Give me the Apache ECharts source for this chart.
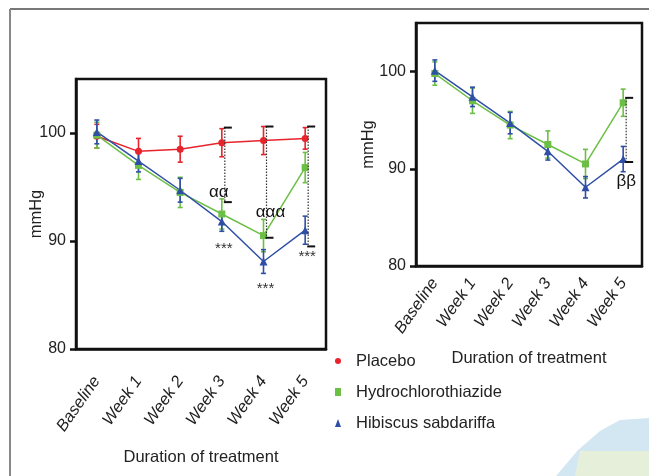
<!DOCTYPE html>
<html>
<head>
<meta charset="utf-8">
<script src="https://cdn.jsdelivr.net/npm/echarts@6/dist/echarts.min.js"></script>
<style>
  html, body { margin: 0; padding: 0; background: #fff; }
  #chart { width: 649px; height: 476px; }
</style>
</head>
<body>
<div id="chart"></div>
<script>
// categories and tick labels
const weeks = ['Baseline', 'Week 1', 'Week 2', 'Week 3', 'Week 4', 'Week 5'];
const yTicks = [80, 90, 100];

// means (mmHg)
const placebo = [99.7, 98.3, 98.5, 99.1, 99.3, 99.5];
const hct = [99.8, 97.0, 94.5, 92.5, 90.5, 96.8];
const hibiscus = [100.1, 97.4, 94.7, 91.8, 88.1, 91.0];

// error bar half widths
const placeboErr = [1.1, 1.2, 1.2, 1.3, 1.3, 1.0];
const hctErr = [1.2, 1.3, 1.4, 1.4, 1.5, 1.4];
const hibiscusErr = [1.1, 1.0, 1.1, 0.9, 1.1, 1.3];

// significance brackets: [category, top, bottom]
const bracketsLeft = [[3, 100.5, 93.6], [4, 100.6, 90.3], [5, 100.6, 89.5]];
const bracketsRight = [[5, 97.3, 90.7]];

// significance marks: [category, value, text]
const marksLeft = [[3, 94.5, 'αα'], [4, 92.7, 'ααα'], [3, 89.3, '***'], [4, 85.6, '***'], [5, 88.5, '***']];
const marksRight = [[5, 88.7, 'ββ']];

const RED = '#e8232b', GREEN = '#6cbf45', BLUE = '#2f4fa6';
const FONT = 'Liberation Sans, Arial, sans-serif';

const chart = echarts.init(document.getElementById('chart'));

function errData(mean, err) {
  return mean.map((m, i) => [i, m - err[i], m + err[i]]);
}

function errSeries(name, mean, err, color, idx) {
  return {
    name: name,
    type: 'custom',
    xAxisIndex: idx, yAxisIndex: idx,
    z: 3,
    itemStyle: { color: color },
    data: errData(mean, err),
    encode: { x: 0, y: [1, 2] },
    renderItem(params, api) {
      const lo = api.coord([api.value(0), api.value(1)]);
      const hi = api.coord([api.value(0), api.value(2)]);
      const st = { stroke: color, lineWidth: 1.6 };
      return {
        type: 'group',
        children: [
          { type: 'line', shape: { x1: hi[0], y1: hi[1], x2: lo[0], y2: lo[1] }, style: st },
          { type: 'line', shape: { x1: hi[0] - 2.5, y1: hi[1], x2: hi[0] + 2.5, y2: hi[1] }, style: st },
          { type: 'line', shape: { x1: lo[0] - 2.5, y1: lo[1], x2: lo[0] + 2.5, y2: lo[1] }, style: st }
        ]
      };
    }
  };
}

function lineSeries(name, data, color, symbol, size, idx) {
  return {
    name: name,
    type: 'line',
    xAxisIndex: idx, yAxisIndex: idx,
    data: data,
    symbol: symbol,
    symbolSize: size,
    z: 4,
    lineStyle: { color: color, width: 1.5 },
    itemStyle: { color: color },
    emphasis: { disabled: true }
  };
}

function bracketSeries(data, idx) {
  return {
    type: 'custom',
    xAxisIndex: idx, yAxisIndex: idx,
    z: 5,
    data: data,
    encode: { x: 0, y: [1, 2] },
    renderItem(params, api) {
      const top = api.coord([api.value(0), api.value(1)]);
      const bot = api.coord([api.value(0), api.value(2)]);
      const x = top[0] + 3;
      const cap = { stroke: '#111', lineWidth: 2 };
      return {
        type: 'group',
        children: [
          { type: 'line', shape: { x1: x, y1: top[1], x2: x, y2: bot[1] },
            style: { stroke: '#333', lineWidth: 1.2, lineDash: [1.5, 1.5] } },
          { type: 'line', shape: { x1: x - 1, y1: top[1], x2: x + 7, y2: top[1] }, style: cap },
          { type: 'line', shape: { x1: x - 1, y1: bot[1], x2: x + 7, y2: bot[1] }, style: cap }
        ]
      };
    }
  };
}

function markSeries(data, idx) {
  return {
    type: 'custom',
    xAxisIndex: idx, yAxisIndex: idx,
    z: 6,
    data: data,
    encode: { x: 0, y: 1 },
    renderItem(params, api) {
      const d = data[params.dataIndex];
      const p = api.coord([d[0], d[1]]);
      const star = d[2] === '***';
      const dx = d[2] === 'ααα' ? 7 : (d[2] === 'ββ' ? 3 : (star ? 2 : -3));
      return {
        type: 'text',
        style: {
          x: p[0] + dx, y: p[1],
          text: d[2],
          fill: star ? '#333' : '#111',
          font: (star ? '15px ' : '17px ') + FONT,
          align: 'center', verticalAlign: 'middle'
        }
      };
    }
  };
}

function xAxis(idx, gap, labelMargin) {
  return {
    type: 'category',
    gridIndex: idx,
    data: weeks,
    boundaryGap: true,
    name: 'Duration of treatment',
    nameLocation: 'middle',
    nameGap: gap,
    nameMoveOverlap: false,
    nameTextStyle: { fontFamily: FONT, fontSize: 16.5, color: '#222' },
    axisLine: { lineStyle: { color: '#111', width: 2.5 } },
    axisTick: { alignWithLabel: true, length: 6, lineStyle: { color: '#111', width: 2.5 } },
    axisLabel: {
      rotate: 55, margin: labelMargin, fontFamily: FONT, fontSize: 16.5, fontStyle: 'italic', color: '#222'
    },
    splitLine: { show: false }
  };
}

function yAxis(idx, gap) {
  return {
    type: 'value',
    gridIndex: idx,
    min: 80, max: 105, interval: 10,
    name: 'mmHg',
    nameLocation: 'middle',
    nameGap: gap,
    nameMoveOverlap: false,
    nameTextStyle: { fontFamily: FONT, fontSize: 16.5, color: '#222' },
    axisLine: { show: true, lineStyle: { color: '#111', width: 2.5 } },
    axisTick: { show: true, length: 6, customValues: yTicks, lineStyle: { color: '#111', width: 2.5 } },
    axisLabel: { margin: 10, customValues: yTicks, fontFamily: FONT, fontSize: 16, color: '#222' },
    splitLine: { show: false }
  };
}

chart.setOption({
  animation: false,
  backgroundColor: '#fff',
  grid: [
    { left: 76, top: 79, width: 250, height: 270, show: true, borderColor: '#111', borderWidth: 2.5 },
    { left: 416, top: 23, width: 226, height: 243, show: true, borderColor: '#111', borderWidth: 2.5 }
  ],
  xAxis: [xAxis(0, 100, 29), xAxis(1, 84, 14)],
  yAxis: [yAxis(0, 31), yAxis(1, 39)],
  legend: {
    orient: 'vertical',
    left: 330, top: 347,
    itemWidth: 6, itemHeight: 8,
    itemGap: 13,
    selectedMode: false,
    textStyle: { fontFamily: FONT, fontSize: 16.5, color: '#222', lineHeight: 18, padding: [0, 0, 0, 10] },
    data: [
      { name: 'Placebo', icon: 'circle', itemStyle: { color: RED } },
      { name: 'Hydrochlorothiazide', icon: 'rect', itemStyle: { color: GREEN } },
      { name: 'Hibiscus sabdariffa', icon: 'triangle', itemStyle: { color: BLUE } }
    ]
  },
  graphic: [
    { type: 'line', shape: { x1: 10, y1: 9, x2: 649, y2: 9 }, style: { stroke: '#777', lineWidth: 2 } },
    { type: 'line', shape: { x1: 10, y1: 9, x2: 10, y2: 476 }, style: { stroke: '#888', lineWidth: 2 } },
    { type: 'polygon', shape: { points: [[556, 476], [578, 450], [600, 431], [620, 420], [649, 418], [649, 476]] },
      style: { fill: '#d3e7f3' }, z: -1 },
    { type: 'polygon', shape: { points: [[580, 451], [649, 451], [649, 476], [575, 476]] },
      style: { fill: '#e5efd9' }, z: -1 }
  ],
  series: [
    errSeries('Placebo', placebo, placeboErr, RED, 0),
    errSeries('Hydrochlorothiazide', hct, hctErr, GREEN, 0),
    errSeries('Hibiscus sabdariffa', hibiscus, hibiscusErr, BLUE, 0),
    lineSeries('Placebo', placebo, RED, 'circle', 7, 0),
    lineSeries('Hydrochlorothiazide', hct, GREEN, 'rect', 7, 0),
    lineSeries('Hibiscus sabdariffa', hibiscus, BLUE, 'triangle', 8, 0),
    bracketSeries(bracketsLeft, 0),
    markSeries(marksLeft, 0),
    errSeries('Hydrochlorothiazide', hct, hctErr, GREEN, 1),
    errSeries('Hibiscus sabdariffa', hibiscus, hibiscusErr, BLUE, 1),
    lineSeries('Hydrochlorothiazide', hct, GREEN, 'rect', 7, 1),
    lineSeries('Hibiscus sabdariffa', hibiscus, BLUE, 'triangle', 8, 1),
    bracketSeries(bracketsRight, 1),
    markSeries(marksRight, 1)
  ]
});
</script>
</body>
</html>
